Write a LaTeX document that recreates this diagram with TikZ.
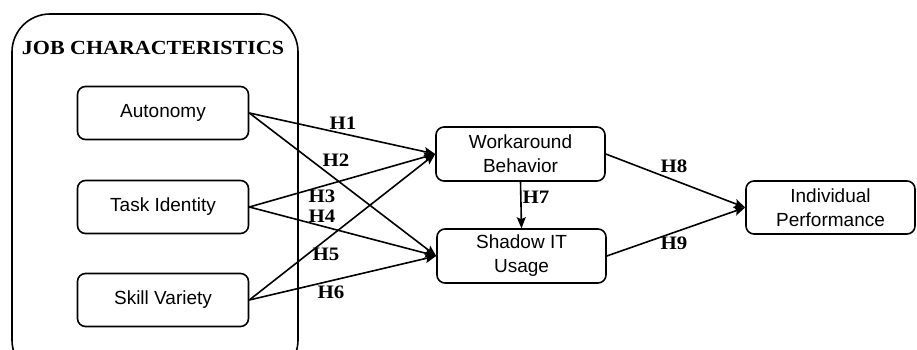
\documentclass[tikz,border=0pt]{standalone}
\usepackage{fontspec}
\setmainfont{Liberation Sans}
\newfontfamily\hfont[FakeStretch=1.1]{Liberation Serif}
\usetikzlibrary{arrows.meta}
\begin{document}
\begin{tikzpicture}[x=1pt,y=-1pt,
  box/.style={draw, line width=1.6pt, rounded corners=8pt, minimum width=171pt, minimum height=53pt, align=center, font=\fontsize{19}{24}\selectfont, inner sep=0pt},
  arr/.style={line width=1.6pt, -{Stealth[length=11pt,width=9pt,inset=2pt]}},
  hyp/.style={font=\hfont\bfseries\fontsize{19}{22}\selectfont, inner sep=0pt},
]
\useasboundingbox (0,0) rectangle (917,350);
\draw[line width=1.6pt, rounded corners=38pt] (12,14) rectangle (298,378);
\node[hyp, font=\hfont\bfseries\fontsize{20}{24}\selectfont] (title) at (153,48) {JOB CHARACTERISTICS};

\node[box] (aut) at (163,113) {Autonomy};
\node[box] (task) at (163,207) {Task Identity};
\node[box] (skill) at (163,300) {Skill Variety};
\node[box, minimum width=169pt, minimum height=54pt] (work) at (520.5,154) {Workaround\\Behavior};
\node[box, minimum width=169pt, minimum height=54pt] (shadow) at (521.5,256) {Shadow IT\\Usage};
\node[box, minimum width=169pt, minimum height=53pt] (ind) at (830.5,207.5) {Individual\\Performance};

\draw[arr] (aut.east) -- (work.west);
\draw[arr] (aut.east) -- (shadow.west);
\draw[arr] (task.east) -- (work.west);
\draw[arr] (task.east) -- (shadow.west);
\draw[arr] (skill.east) -- (work.west);
\draw[arr] (skill.east) -- (shadow.west);
\draw[arr] (work.south) -- (shadow.north);
\draw[arr] (work.east) -- (ind.west);
\draw[arr] (shadow.east) -- (ind.west);

\node[hyp] (h1) at (343,123) {H1};
\node[hyp] (h2) at (336,160) {H2};
\node[hyp] (h3) at (322,196) {H3};
\node[hyp] (h4) at (322,216) {H4};
\node[hyp] (h5) at (326,254) {H5};
\node[hyp] (h6) at (331,292) {H6};
\node[hyp] (h7) at (536,197) {H7};
\node[hyp] (h8) at (674,166) {H8};
\node[hyp] (h9) at (674,243) {H9};
\end{tikzpicture}
\end{document}
